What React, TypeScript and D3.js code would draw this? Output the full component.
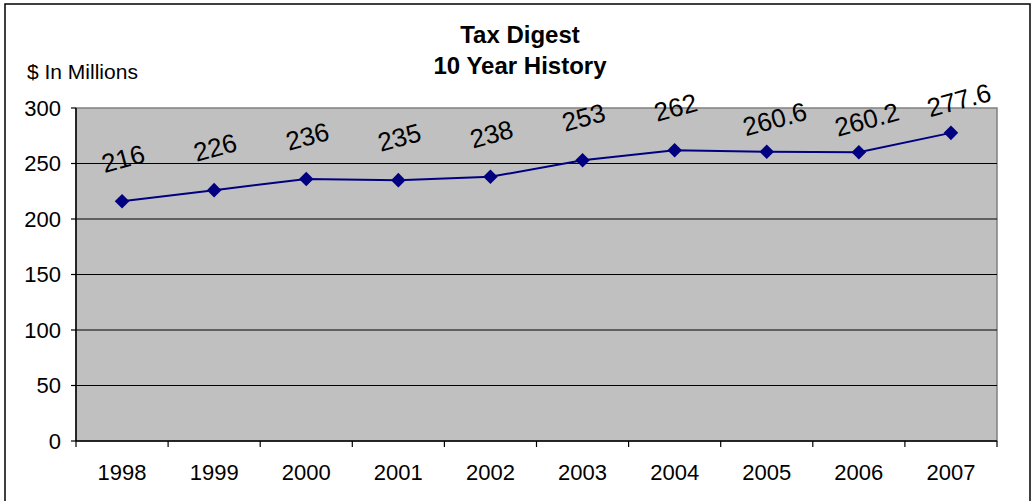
import React from "react";
import * as d3 from "d3";

const years = ["1998", "1999", "2000", "2001", "2002", "2003", "2004", "2005", "2006", "2007"];
const values = [216, 226, 236, 235, 238, 253, 262, 260.6, 260.2, 277.6];
const labels = ["216", "226", "236", "235", "238", "253", "262", "260.6", "260.2", "277.6"];
const yTicks = [0, 50, 100, 150, 200, 250, 300];
const titleLines = ["Tax Digest", "10 Year History"];
const yAxisTitle = "$ In Millions";

const W = 1032;
const H = 501;
const plot = { left: 76, right: 997, top: 108, bottom: 441 };
const FONT = "'Liberation Sans', Arial, sans-serif";

export default function App() {
  const x = d3.scaleBand<string>().domain(years).range([plot.left, plot.right]).padding(0);
  const y = d3.scaleLinear().domain([0, 300]).range([plot.bottom, plot.top]);
  const cx = (d: string) => (x(d) as number) + x.bandwidth() / 2;
  const line = d3
    .line<number>()
    .x((_, i) => cx(years[i]))
    .y((v) => y(v));
  const diamond = d3.symbol().type(d3.symbolDiamond2).size(135)();
  const boundaries = years.map((d) => x(d) as number).concat([plot.right]);

  return (
    <svg
      width={W}
      height={H}
      style={{ position: "absolute", left: 0, top: 0, background: "#fff" }}
      fontFamily={FONT}
    >
      <rect x={5} y={4} width={1025} height={520} fill="#fff" stroke="#000" strokeWidth={1.5} />
      {titleLines.map((t, i) => (
        <text key={t} x={520} y={43 + i * 31} textAnchor="middle" fontSize={24} fontWeight="bold">
          {t}
        </text>
      ))}
      <text x={27} y={79} fontSize={21}>
        {yAxisTitle}
      </text>
      <rect
        x={plot.left}
        y={plot.top}
        width={plot.right - plot.left}
        height={plot.bottom - plot.top}
        fill="#C0C0C0"
        stroke="#808080"
        strokeWidth={1.5}
      />
      {yTicks.filter((t) => t > 0 && t < 300).map((t) => (
        <line key={t} x1={plot.left} x2={plot.right} y1={y(t)} y2={y(t)} stroke="#000" strokeWidth={1} />
      ))}
      <line x1={plot.left} x2={plot.left} y1={plot.top} y2={plot.bottom} stroke="#000" strokeWidth={1.5} />
      <line x1={plot.left} x2={plot.right} y1={plot.bottom} y2={plot.bottom} stroke="#000" strokeWidth={1.5} />
      {yTicks.map((t) => (
        <g key={t}>
          <line x1={plot.left - 5} x2={plot.left} y1={y(t)} y2={y(t)} stroke="#000" strokeWidth={1.2} />
          <text x={61} y={y(t)} dy="0.36em" textAnchor="end" fontSize={22}>
            {t}
          </text>
        </g>
      ))}
      {boundaries.map((b, i) => (
        <line key={i} x1={b} x2={b} y1={plot.bottom} y2={plot.bottom + 6} stroke="#000" strokeWidth={1.2} />
      ))}
      {years.map((d) => (
        <text key={d} x={cx(d)} y={480} textAnchor="middle" fontSize={22}>
          {d}
        </text>
      ))}
      <path d={line(values) || ""} fill="none" stroke="#000080" strokeWidth={2} />
      {values.map((v, i) => (
        <path key={i} d={diamond || ""} transform={`translate(${cx(years[i])},${y(v)})`} fill="#000080" />
      ))}
      {values.map((v, i) => {
        const long = labels[i].length > 3;
        const lx = cx(years[i]) + (long ? 8 : 1);
        const ly = y(v) - (long ? 33 : 43);
        return (
          <text
            key={i}
            x={lx}
            y={ly}
            dy="0.36em"
            textAnchor="middle"
            fontSize={26}
            transform={`rotate(-15, ${lx}, ${ly})`}
          >
            {labels[i]}
          </text>
        );
      })}
    </svg>
  );
}
